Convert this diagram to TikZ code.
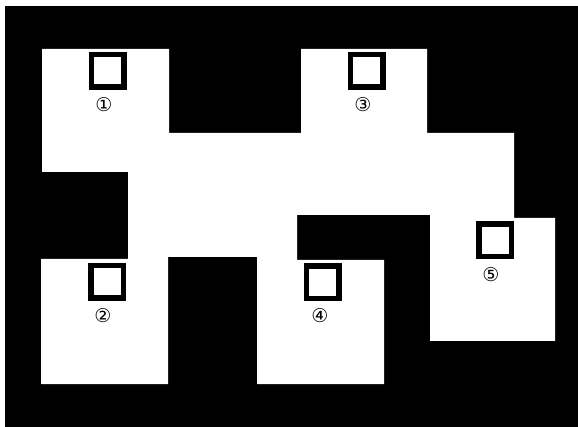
\documentclass[tikz,border=0pt]{standalone}
\usepackage{fontspec}
\newfontfamily\symfont{DejaVu Sans}
\begin{document}
\begin{tikzpicture}[x=1pt,y=-1pt,
  room/.style={fill=white,draw=none},
  marker/.style={draw=black,line width=5.5pt,fill=white,minimum size=32.5pt,inner sep=0pt},
  num/.style={font=\symfont\fontsize{19}{19}\selectfont,inner sep=0pt}]
\useasboundingbox (0,0) rectangle (578,427);
\fill[white] (0,0) rectangle (578,427);
\fill[black] (5,6) rectangle (578,427);
\fill[room] (42,49) -- (169,49) -- (169,133) -- (301,133) -- (301,49) -- (427,49)
  -- (427,133) -- (514,133) -- (514,218) -- (555,218) -- (555,341) -- (430,341)
  -- (430,215) -- (297,215) -- (297,260) -- (384,260) -- (384,384) -- (257,384)
  -- (257,257) -- (168,257) -- (168,384) -- (41,384) -- (41,259) -- (128,259)
  -- (128,172) -- (42,172) -- cycle;
\node[marker] (s1) at (107.5,71) {};
\node[marker] (s2) at (107,282) {};
\node[marker] (s3) at (366.5,71) {};
\node[marker] (s4) at (322.5,282.5) {};
\node[marker] (s5) at (495,240.5) {};
\node[num] (n1) at (104,105) {①};
\node[num] (n2) at (103,316) {②};
\node[num] (n3) at (363,105) {③};
\node[num] (n4) at (320,316) {④};
\node[num] (n5) at (491,275) {⑤};
\end{tikzpicture}
\end{document}
